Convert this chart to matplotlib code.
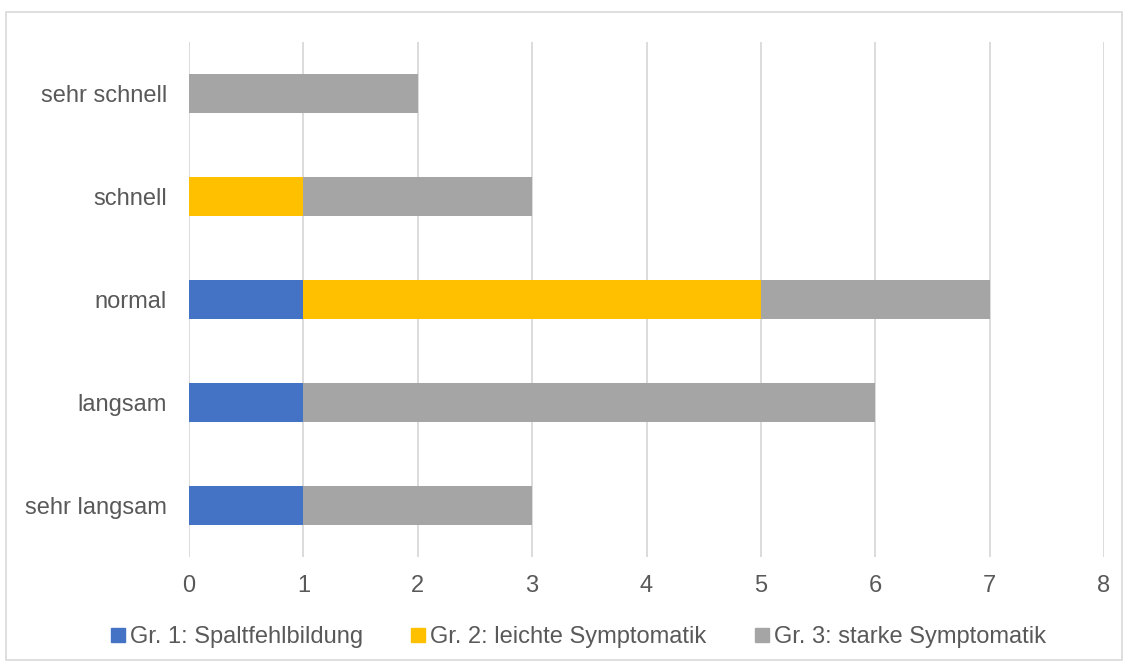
import matplotlib
matplotlib.use("Agg")
import matplotlib.pyplot as plt
from matplotlib.patches import Rectangle
from matplotlib.lines import Line2D

categories = ["sehr langsam", "langsam", "normal", "schnell", "sehr schnell"]
series_names = ["Gr. 1: Spaltfehlbildung", "Gr. 2: leichte Symptomatik", "Gr. 3: starke Symptomatik"]
gr1 = [1, 1, 1, 0, 0]
gr2 = [0, 0, 4, 1, 0]
gr3 = [2, 5, 2, 2, 2]
colors = ["#4472C4", "#FFC000", "#A5A5A5"]
xticks = [0, 1, 2, 3, 4, 5, 6, 7, 8]

plt.rcParams["font.family"] = ["Liberation Sans", "DejaVu Sans"]
txt = "#595959"
fs = 17

fig = plt.figure(figsize=(11.28, 6.64), dpi=100)
ax = fig.add_axes([189/1128, 1-557/664, (1104-189)/1128, (557-42)/664])

y = list(range(len(categories)))
left = [0]*len(categories)
for vals, col, name in zip([gr1, gr2, gr3], colors, series_names):
    ax.barh(y, vals, left=left, height=0.37, color=col, label=name, zorder=3)
    left = [a+b for a, b in zip(left, vals)]

ax.set_xlim(0, 8)
ax.set_ylim(-0.5, len(categories)-0.5)
ax.set_xticks(xticks)
ax.set_xticklabels([str(t) for t in xticks])
ax.set_yticks(y)
ax.set_yticklabels(categories)
ax.grid(axis="x", color="#D9D9D9", linewidth=1.3, zorder=0)
for s in ax.spines.values():
    s.set_visible(False)
ax.tick_params(axis="both", length=0, labelsize=fs, colors=txt)
ax.tick_params(axis="x", pad=13)
ax.tick_params(axis="y", pad=16)

handles = [Line2D([0], [0], marker="s", linestyle="none", markersize=9.5,
                  markerfacecolor=c, markeredgecolor=c) for c in colors]
fig.legend(handles, series_names, loc="center", bbox_to_anchor=(576/1128, 1-637/664),
           ncol=3, frameon=False, fontsize=fs, labelcolor=txt,
           handletextpad=0.0, columnspacing=1.85, handlelength=1.0)

fig.patches.append(Rectangle((6/1128, 4/664), 1116/1128, 648/664, transform=fig.transFigure,
                             fill=False, edgecolor="#D9D9D9", linewidth=1.2))

fig.savefig("out.png", dpi=100, facecolor="white")
